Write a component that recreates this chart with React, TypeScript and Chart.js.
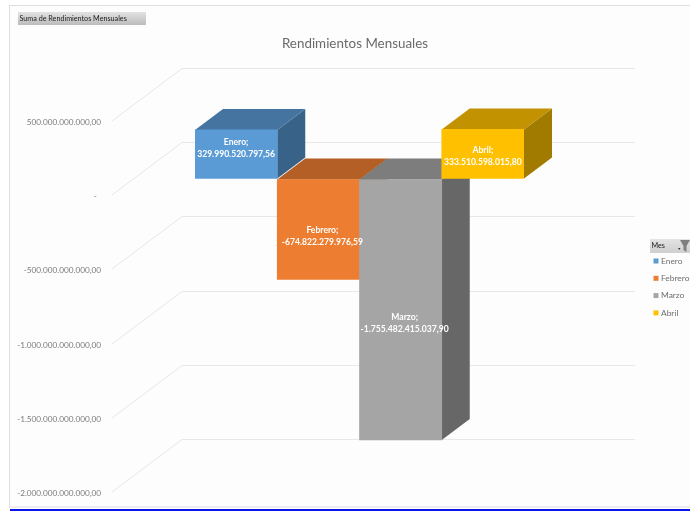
import React, { useEffect, useRef } from "react";
import { Chart, registerables } from "chart.js";

Chart.register(...registerables);

const months = ["Enero", "Febrero", "Marzo", "Abril"];
const monthlyReturns = [329990520797.56, -674822279976.59, -1755482415037.9, 333510598015.8];
const returnLabels = ["329.990.520.797,56", "-674.822.279.976,59", "-1.755.482.415.037,90", "333.510.598.015,80"];
const frontColors = ["#5b9bd5", "#ed7d31", "#a5a5a5", "#ffc000"];
const topColors = ["#44749f", "#b45f25", "#7d7d7d", "#c29200"];
const sideColors = ["#386288", "#8f4b1d", "#676767", "#a07b00"];
const chartTitle = "Rendimientos Mensuales";
const fieldButton = "Suma de Rendimientos Mensuales";
const legendTitle = "Mes";

const FONT = "Lato, 'Open Sans', sans-serif";
const DEPTH_X = 28;
const DEPTH_Y = 21;
const WALL_UP = 37;
const FLOOR_DOWN = 16;
const FLOOR_X = 112;
const WALL_X = 182;
const WALL_RIGHT = 635;
const labelShiftX = [0, 4, 4, 0];
const labelShiftY = [-6.5, 7, 13, 2.5];

function formatTick(v: number): string {
  if (v === 0) return "-  ";
  const s = Math.abs(v).toFixed(0).replace(/\B(?=(\d{3})+(?!\d))/g, ".");
  return (v < 0 ? "-" : "") + s + ",00";
}

function poly(ctx: CanvasRenderingContext2D, pts: number[][], fill: string) {
  ctx.fillStyle = fill;
  ctx.beginPath();
  pts.forEach(([x, y], i) => (i ? ctx.lineTo(x, y) : ctx.moveTo(x, y)));
  ctx.closePath();
  ctx.fill();
}

const scenePlugin = {
  id: "scene",
  afterLayout(chart: any) {
    chart.titleBlock.left = 186;
  },
  beforeDraw(chart: any) {
    const { ctx, width, height } = chart;
    ctx.save();
    ctx.fillStyle = "#ffffff";
    ctx.fillRect(0, 0, width, height);
    ctx.fillStyle = "#fdfdfd";
    ctx.fillRect(10, 6, width - 10, 501);
    ctx.strokeStyle = "#dedede";
    ctx.lineWidth = 1;
    ctx.strokeRect(9.5, 5.5, width + 10, 501.5);
    ctx.fillStyle = "#0a14e6";
    ctx.fillRect(10, 509, width - 10, 2);

    const g = ctx.createLinearGradient(0, 12, 0, 25);
    g.addColorStop(0, "#e2e2e2");
    g.addColorStop(1, "#bcbcbc");
    ctx.fillStyle = g;
    ctx.fillRect(18, 12, 128, 13);
    ctx.fillStyle = "#222222";
    ctx.font = `7.2px ${FONT}`;
    ctx.textAlign = "left";
    ctx.textBaseline = "middle";
    ctx.fillText(fieldButton, 19.5, 19);
    ctx.restore();
  },
  beforeDatasetsDraw(chart: any) {
    const { ctx } = chart;
    const yScale = chart.scales.y;
    ctx.save();
    ctx.strokeStyle = "#e8e8e8";
    ctx.lineWidth = 1;
    yScale.ticks.forEach((t: any) => {
      const p = Math.round(yScale.getPixelForValue(t.value));
      ctx.beginPath();
      ctx.moveTo(FLOOR_X, p + FLOOR_DOWN);
      ctx.lineTo(WALL_X, p - WALL_UP + 0.5);
      ctx.lineTo(WALL_RIGHT, p - WALL_UP + 0.5);
      ctx.stroke();
    });
    const bars = chart.getDatasetMeta(0).data;
    bars.forEach((el: any, i: number) => {
      const l = el.x - el.width / 2;
      const r = el.x + el.width / 2;
      const t = Math.min(el.y, el.base);
      const b = Math.max(el.y, el.base);
      poly(ctx, [[r, t], [r + DEPTH_X, t - DEPTH_Y], [r + DEPTH_X, b - DEPTH_Y], [r, b]], sideColors[i]);
      poly(ctx, [[l, t], [l + DEPTH_X, t - DEPTH_Y], [r + DEPTH_X, t - DEPTH_Y], [r, t]], topColors[i]);
    });
    ctx.restore();
  },
  afterDatasetsDraw(chart: any) {
    const { ctx, width } = chart;
    const bars = chart.getDatasetMeta(0).data;
    ctx.save();
    ctx.textAlign = "center";
    ctx.textBaseline = "middle";
    ctx.fillStyle = "#ffffff";
    ctx.font = `bold 8.6px ${FONT}`;
    bars.forEach((el: any, i: number) => {
      const cx = el.x + labelShiftX[i];
      const cy = (el.y + el.base) / 2 + labelShiftY[i];
      ctx.fillText(months[i] + ";", cx, cy - 6);
      ctx.fillText(returnLabels[i], cx, cy + 6);
    });

    const hg = ctx.createLinearGradient(0, 239, 0, 253);
    hg.addColorStop(0, "#e4e4e4");
    hg.addColorStop(1, "#cfcfcf");
    ctx.fillStyle = hg;
    ctx.fillRect(650, 239, width - 650, 14);
    ctx.fillStyle = "#222222";
    ctx.font = `7.2px ${FONT}`;
    ctx.textAlign = "left";
    ctx.fillText(legendTitle, 651.5, 246);
    poly(ctx, [[678, 248], [680.5, 248], [679.2, 250]], "#333333");
    poly(ctx, [[680, 240], [690, 240], [686.5, 246], [686.5, 252], [683.5, 250], [683.5, 246]], "#7f7f7f");
    ctx.font = `8.4px ${FONT}`;
    months.forEach((m, i) => {
      const y = 261 + i * 17.3;
      ctx.fillStyle = frontColors[i];
      ctx.fillRect(653.5, y - 2.5, 5, 5);
      ctx.fillStyle = "#6e6e6e";
      ctx.fillText(m, 661, y);
    });
    ctx.restore();
  },
};

export default function App() {
  const ref = useRef<HTMLCanvasElement>(null);
  useEffect(() => {
    const chart = new Chart(ref.current!, {
      type: "bar",
      data: {
        labels: months,
        datasets: [
          {
            label: "Suma de Rendimientos Mensuales",
            data: monthlyReturns,
            backgroundColor: frontColors,
            barPercentage: 1,
            categoryPercentage: 1,
            borderWidth: 0,
          },
        ],
      },
      options: {
        responsive: false,
        animation: false,
        layout: { padding: { left: 0, right: 166, top: 0, bottom: 34.7 } },
        plugins: {
          legend: { display: false },
          tooltip: { enabled: false },
          title: {
            display: true,
            text: chartTitle,
            color: "#6a6a6a",
            font: { family: FONT, size: 13.4, weight: "normal", lineHeight: 1.2 },
            padding: { top: 35.6, bottom: 53 },
          },
        },
        scales: {
          x: { display: false, grid: { display: false } },
          y: {
            min: -2000000000000,
            max: 500000000000,
            border: { display: false },
            grid: {
              display: true,
              drawOnChartArea: false,
              drawTicks: true,
              tickLength: 94,
              tickColor: "rgba(0,0,0,0)",
            },
            afterFit: (s: any) => {
              s.width = 195;
            },
            ticks: {
              stepSize: 500000000000,
              callback: (v: any) => formatTick(Number(v)),
              color: "#7a7a7a",
              font: { family: FONT, size: 8.2 },
              padding: 0,
              labelOffset: FLOOR_DOWN + 1.2,
            },
          },
        },
      },
      plugins: [scenePlugin],
    } as any);
    return () => chart.destroy();
  }, []);
  return (
    <div style={{ position: "absolute", left: 0, top: 0, width: 690, height: 511, overflow: "hidden" }}>
      <canvas ref={ref} width={690} height={511} style={{ display: "block", filter: "blur(0.55px)" }} />
    </div>
  );
}
